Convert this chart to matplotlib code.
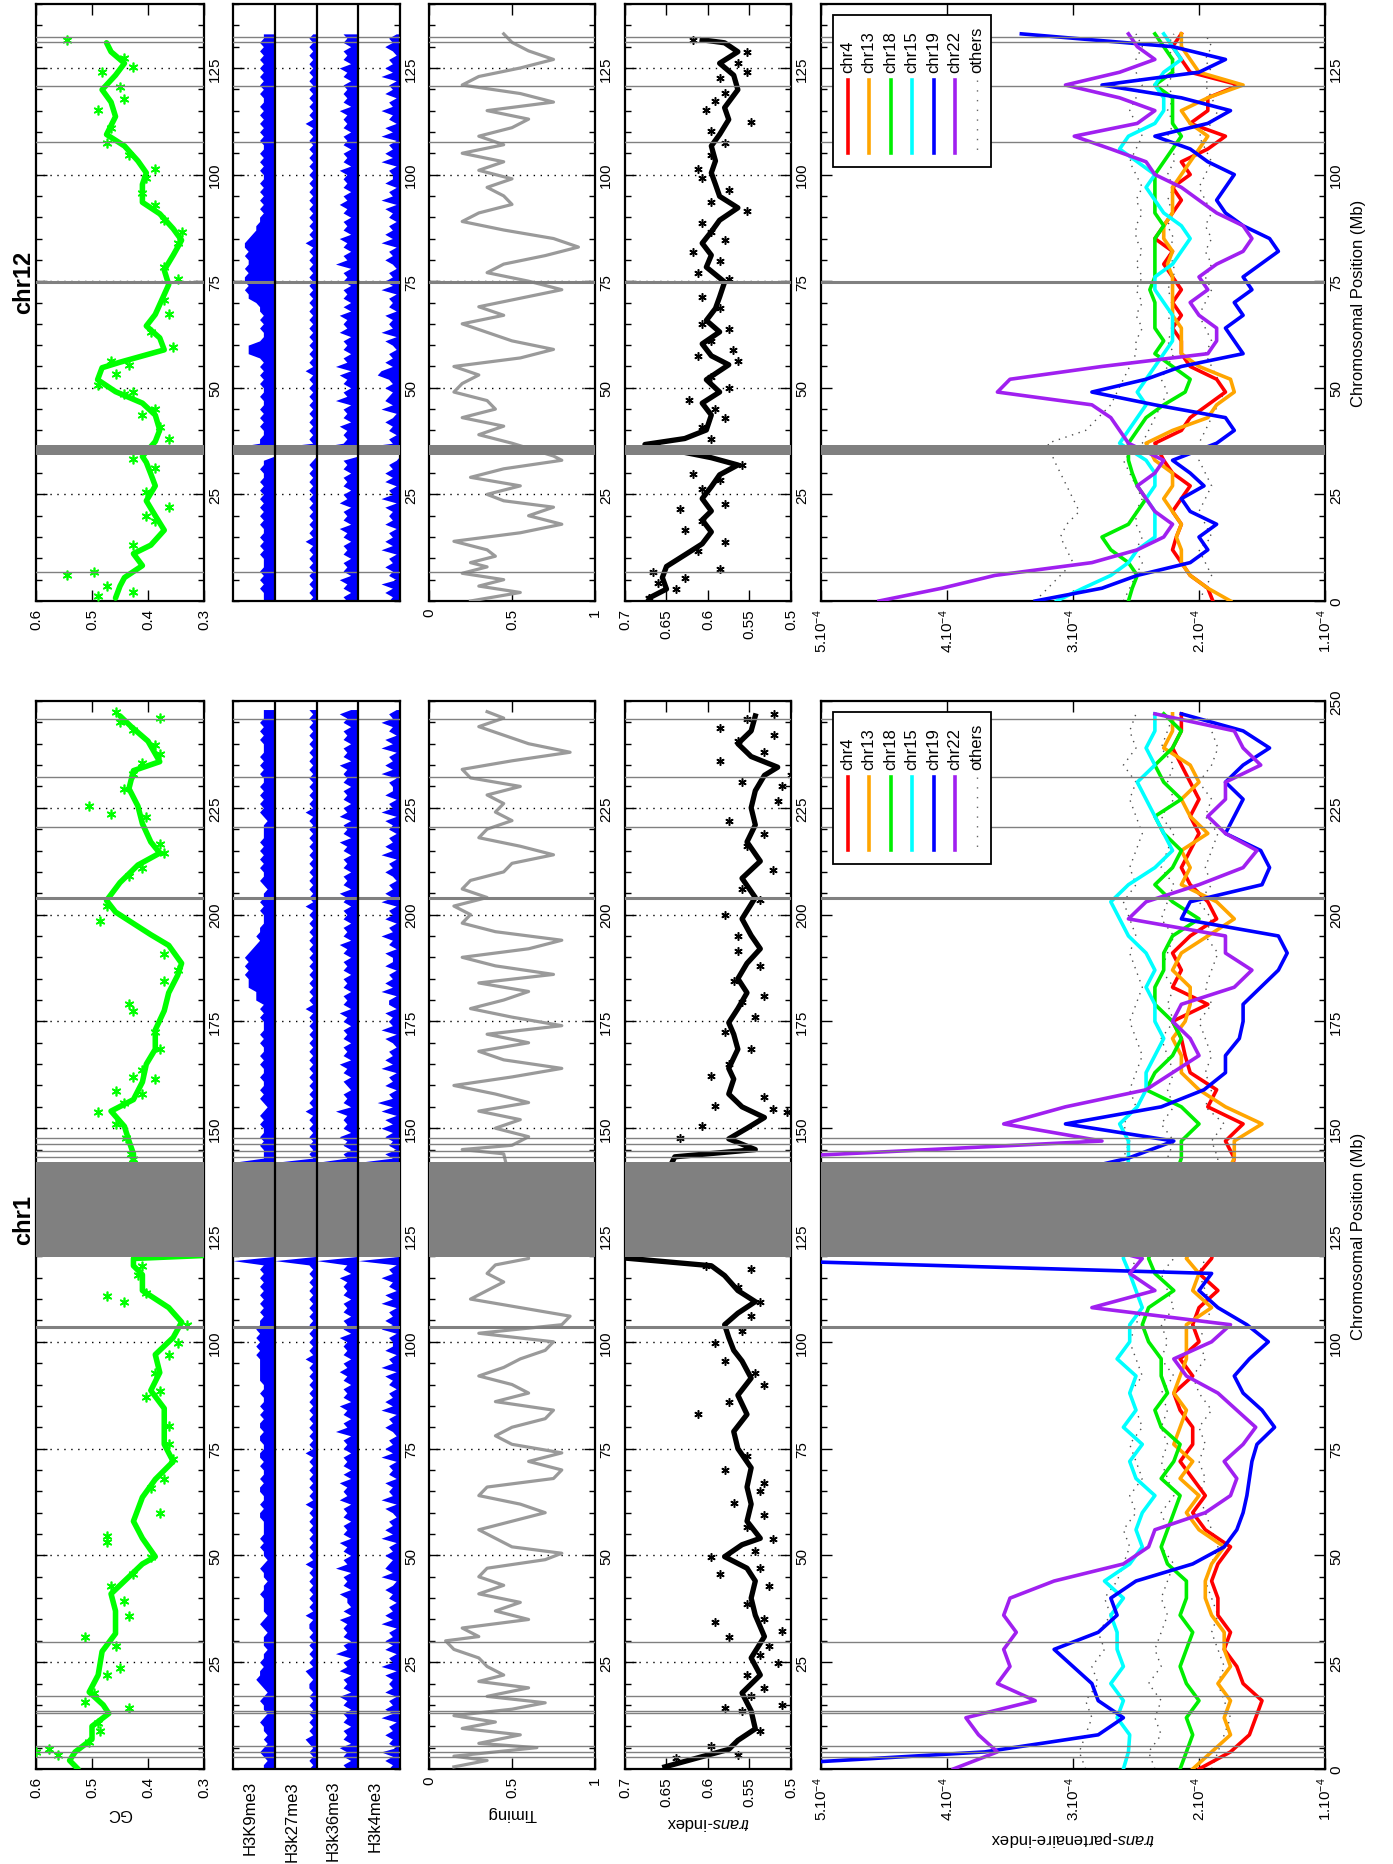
import numpy as np
import matplotlib
matplotlib.use('Agg')
import matplotlib.pyplot as plt
from matplotlib.patches import Rectangle
from matplotlib.lines import Line2D

plt.rcParams['font.family'] = ['Liberation Sans', 'DejaVu Sans']
plt.rcParams['mathtext.fontset'] = 'custom'
plt.rcParams['mathtext.rm'] = 'Liberation Sans'
plt.rcParams['mathtext.it'] = 'Liberation Sans:italic'

# ---------------- chr1 data ----------------
chr1_len = 250
gc1_pos = [0, 2, 4, 7, 10, 13, 15, 18, 22, 27.5, 31.7, 37, 41, 44, 48, 49.7, 54, 58, 63.6, 67.8, 72, 76, 80,
           84.4, 88.6, 92.8, 97, 101, 104.6, 108, 112, 115.7, 117.8, 119.5, 120.2,
           142, 144, 147, 150.4, 154, 156.7, 160.8, 165, 168.5, 173, 177.5, 181.7, 185.8, 188.6, 192.8, 195.3,
           200.6, 203.3, 207.5, 211.6, 214.4, 217, 221.3, 225.4, 229.5, 233.7, 235.8, 240.6, 244, 246.5]
gc1_val = [0.525, 0.54, 0.53, 0.5, 0.5, 0.47, 0.48, 0.505, 0.489, 0.482, 0.458, 0.458, 0.466, 0.442, 0.41, 0.387,
           0.41, 0.426, 0.41, 0.387, 0.355, 0.371, 0.371, 0.371, 0.395, 0.379, 0.387, 0.355, 0.34, 0.363, 0.41,
           0.41, 0.426, 0.426, 0.30,
           0.426, 0.426, 0.434, 0.442, 0.466, 0.426, 0.41, 0.403, 0.387, 0.387, 0.371, 0.363, 0.347, 0.34, 0.363,
           0.395, 0.458, 0.474, 0.45, 0.418, 0.379, 0.395, 0.41, 0.418, 0.434, 0.426, 0.379, 0.40, 0.43, 0.45]
gc1_pts_pos = [3.9, 4.6, 3.2, 6.4, 8.8, 10.8, 14.3, 15.7, 17.8, 22, 23.6, 28.9, 31, 35.8, 39.3, 42.8, 45.6, 49.7,
               53.2, 54.6, 60, 65.7, 67.8, 72.6, 76, 80.3, 87, 88.6, 92.8, 97, 99.7, 104, 109.4, 110.8, 111.5,
               115.7, 117.8, 142.8, 144, 147.6, 151, 153.9, 156, 158, 158.8, 161.5, 162, 163.6, 168.5, 172.6,
               177.5, 179, 184.4, 187, 190.7, 198.5, 202, 209, 211, 214.4, 216.5, 222.8, 223.6, 225.5, 229.5,
               233, 235.4, 237.5, 239.6, 243.1, 245, 246, 247.5]
gc1_pts_val = [0.6, 0.576, 0.56, 0.505, 0.486, 0.49, 0.434, 0.513, 0.497, 0.474, 0.45, 0.458, 0.513, 0.434, 0.442,
               0.466, 0.426, 0.395, 0.474, 0.474, 0.379, 0.395, 0.371, 0.355, 0.363, 0.363, 0.403, 0.379, 0.387,
               0.363, 0.347, 0.331, 0.442, 0.474, 0.403, 0.418, 0.41, 0.426, 0.43, 0.44, 0.458, 0.49, 0.442, 0.41,
               0.458, 0.387, 0.426, 0.41, 0.379, 0.387, 0.426, 0.434, 0.371, 0.347, 0.371, 0.486, 0.474, 0.434,
               0.41, 0.371, 0.379, 0.403, 0.466, 0.505, 0.442, 0.426, 0.41, 0.379, 0.387, 0.426, 0.45, 0.379, 0.458]

# histone signal, one hex digit per Mb (e = full lane)
h1_k9 = ("3323432323" "3432334323" "4544343323" "3323432333" "3433233432" "3343433334" "4343344343"
         "3434433443" "4434343343" "3444444545" "4545443434" "343434343e" "0000000000" "0000000000"
         "00e3334343" "3434323434" "3343343433" "4343334343" "5557778787" "8765454433" "3434332343"
         "3434343433" "3323434343" "4334343433" "343434333")
h1_k27 = ("2121212312" "1212121212" "2123121212" "1212213121" "2121212131" "2121212121" "2131212121"
          "2121312121" "2121212121" "2121213121" "2121212121" "212121212e" "0000000000" "0000000000"
          "00e1212121" "2121312121" "2121212121" "2121212131" "2121212121" "2121212121" "2131212121"
          "2121212121" "2121312121" "2121212121" "212121212")
h1_k36 = ("3424352434" "2434243524" "3425342634" "2434352423" "3524342634" "2435243424" "3425343524"
          "2434243426" "3424352434" "2435342434" "3524342434" "243435243e" "0000000000" "0000000000"
          "00e3424352" "4343624342" "3424352434" "2434243524" "3424342434" "2435243424" "3424352434"
          "2434243524" "3425342434" "2434352434" "243424352")
h1_k4 = ("3242513242" "3152423142" "3241523142" "4231524231" "3242152432" "4231524231" "2415232413"
         "2315242312" "4231524231" "3241523142" "2315242315" "241325231e" "0000000000" "0000000000"
         "00e2413242" "5241526231" "4231524231" "2415232413" "3152423142" "2413252314" "2315242312"
         "4231524231" "3241523142" "2315242315" "241325231")

tim1_pos = [0.5, 2, 3, 5, 6, 8, 9.5, 11, 12.5, 14, 15.5, 17, 19, 20.5, 22, 24, 26, 28, 30, 31, 33, 35, 37, 39, 41,
            43, 45, 47, 49, 50.5, 52, 54, 56, 58, 60, 62, 64, 66, 68, 70, 72, 74, 76, 78, 80, 82, 84, 86, 88, 90,
            92, 94, 96, 98, 100, 102, 104, 106, 108, 110, 112, 114, 116, 118, 119.5,
            144, 145, 146, 148, 150, 152, 154, 156, 158, 160, 162, 164, 166, 168, 170, 172, 174, 176, 178, 180,
            182, 184, 186, 188, 190, 192, 194, 196, 198, 200, 202, 204, 206, 208, 210, 212, 214, 216, 218, 220,
            222, 224, 226, 228, 230, 232, 234, 236, 238, 240, 242, 244, 246, 247.5]
tim1_val = [0.15, 0.35, 0.15, 0.65, 0.3, 0.55, 0.2, 0.4, 0.15, 0.5, 0.7, 0.35, 0.6, 0.3, 0.45, 0.35, 0.3, 0.15,
            0.1, 0.3, 0.2, 0.6, 0.4, 0.55, 0.3, 0.45, 0.3, 0.35, 0.7, 0.8, 0.5, 0.4, 0.3, 0.5, 0.7, 0.55, 0.3,
            0.35, 0.75, 0.8, 0.6, 0.8, 0.5, 0.4, 0.5, 0.7, 0.75, 0.4, 0.6, 0.5, 0.3, 0.45, 0.55, 0.7, 0.75, 0.3,
            0.8, 0.85, 0.55, 0.25, 0.35, 0.45, 0.35, 0.4, 0.6,
            0.45, 0.2, 0.5, 0.6, 0.4, 0.55, 0.3, 0.6, 0.4, 0.15, 0.5, 0.8, 0.45, 0.3, 0.6, 0.35, 0.8, 0.5, 0.25,
            0.45, 0.6, 0.3, 0.75, 0.4, 0.2, 0.6, 0.8, 0.4, 0.2, 0.25, 0.15, 0.35, 0.2, 0.25, 0.45, 0.5, 0.75,
            0.55, 0.3, 0.35, 0.5, 0.4, 0.45, 0.35, 0.55, 0.25, 0.2, 0.5, 0.85, 0.6, 0.45, 0.3, 0.45, 0.35]

ti1_pos = [0.5, 4.6, 6.7, 9.4, 13.6, 17.8, 22, 26, 31, 36, 40, 44, 47, 49.7, 52.5, 54, 58, 62, 66, 70.5, 75, 79,
           83, 87.5, 91.5, 95.5, 98, 101, 104, 106.7, 109.4, 112, 115.5, 117.8, 119.6,
           143.3, 145, 147.5, 150, 152.5, 155, 158, 161.5, 164, 168.5, 172, 174.7, 178, 181.7, 185, 188.6, 192,
           195.1, 199, 204, 208.5, 212.5, 217, 221, 225, 229, 232.6, 234.5, 237, 240, 243, 246.5]
ti1_val = [0.652, 0.575, 0.564, 0.543, 0.548, 0.559, 0.537, 0.548, 0.532, 0.543, 0.548, 0.543, 0.553, 0.58, 0.559,
           0.537, 0.553, 0.548, 0.553, 0.548, 0.564, 0.569, 0.553, 0.564, 0.548, 0.559, 0.569, 0.575, 0.58, 0.564,
           0.543, 0.564, 0.58, 0.596, 0.7,
           0.64, 0.543, 0.575, 0.553, 0.532, 0.559, 0.575, 0.569, 0.575, 0.564, 0.569, 0.575, 0.564, 0.553, 0.564,
           0.553, 0.537, 0.548, 0.559, 0.543, 0.559, 0.537, 0.553, 0.543, 0.548, 0.543, 0.532, 0.516, 0.548,
           0.564, 0.548, 0.543]
ti1_pts_pos = [2.5, 5.3, 3.2, 8.8, 13.6, 14.3, 15, 17, 19, 22, 24.7, 26.8, 28.9, 31, 32.4, 34.4, 35.1, 38.6, 42.8,
               45.6, 47, 49.7, 51, 53.9, 56.7, 59.4, 62.2, 65, 67, 69.9, 73.3, 83, 85.8, 90, 92.8, 95.6, 99.7,
               102.5, 106, 109.4, 112.9, 117, 117.8, 147.6, 150.4, 155.3, 154.6, 153.9, 157.4, 162.2, 165, 168.5,
               172.6, 176, 179.6, 181, 184.4, 187.9, 191.4, 195.1, 200, 203.4, 206, 210.5, 216, 218.8, 222,
               226.5, 230, 231, 232.6, 236, 238, 240.6, 242, 243.6, 245.7, 247]
ti1_pts_val = [0.639, 0.596, 0.564, 0.537, 0.559, 0.58, 0.511, 0.548, 0.532, 0.553, 0.516, 0.537, 0.527, 0.575,
               0.511, 0.591, 0.532, 0.553, 0.527, 0.586, 0.537, 0.596, 0.543, 0.522, 0.553, 0.532, 0.569, 0.537,
               0.532, 0.58, 0.553, 0.612, 0.575, 0.532, 0.543, 0.58, 0.591, 0.559, 0.548, 0.537, 0.564, 0.548,
               0.602, 0.634, 0.607, 0.591, 0.522, 0.505, 0.532, 0.596, 0.575, 0.548, 0.58, 0.543, 0.559, 0.532,
               0.569, 0.537, 0.564, 0.564, 0.58, 0.537, 0.559, 0.522, 0.553, 0.532, 0.575, 0.516, 0.511, 0.559,
               0.50, 0.586, 0.532, 0.564, 0.521, 0.586, 0.553, 0.521]

tp1_pos = [0, 4, 8, 12, 16, 20, 24, 28, 32, 36, 40, 44, 48, 52, 56, 60, 64, 68, 72, 76, 80, 84, 88, 92, 96, 100,
           104, 108, 112, 116, 119.5,
           143, 147, 151, 155, 159, 163, 167, 171, 175, 179, 183, 187, 191, 195, 199, 203, 207, 211, 215, 219,
           223, 227, 231, 235, 239, 243, 247]
tp1_chr4 = [2.0, 1.75, 1.6, 1.55, 1.5, 1.65, 1.7, 1.8, 1.75, 1.85, 1.85, 1.9, 1.85, 1.75, 1.95, 2.05, 1.95, 2.05,
            2.15, 2.05, 2.05, 2.15, 2.2, 2.05, 2.15, 2.0, 2.05, 2.0, 1.85, 2.0, 1.9,
            1.72, 1.79, 1.65, 1.93, 1.86, 2.07, 2.11, 2.14, 2.21, 1.93, 2.21, 2.14, 2.21, 2.07, 1.86, 1.93, 2.07,
            2.14, 2.07, 2.0, 2.07, 2.0, 2.07, 2.14, 2.21, 2.14, 2.14]
tp1_chr13 = [2.05, 1.9, 1.75, 1.8, 1.75, 1.85, 1.75, 1.8, 1.8, 1.9, 1.95, 1.95, 1.9, 1.8, 2.0, 2.1, 2.0, 2.15,
             2.05, 2.2, 2.15, 2.1, 2.2, 2.15, 2.1, 2.1, 2.1, 1.9, 2.05, 2.0, 2.1,
             1.72, 1.72, 1.5, 1.79, 2.0, 2.14, 2.14, 2.21, 2.11, 2.07, 2.07, 2.21, 2.14, 1.93, 1.72, 1.86, 2.14,
             2.07, 2.14, 1.93, 2.07, 2.14, 2.0, 2.07, 2.28, 2.21, 2.21]
tp1_chr18 = [2.15, 2.1, 2.05, 2.1, 2.0, 2.1, 2.15, 2.1, 2.05, 2.15, 2.1, 2.1, 2.25, 2.3, 2.25, 2.2, 2.15, 2.3, 2.2,
             2.15, 2.3, 2.35, 2.25, 2.3, 2.3, 2.4, 2.45, 2.4, 2.2, 2.35, 2.4,
             2.14, 2.14, 2.0, 2.14, 2.42, 2.35, 2.21, 2.14, 2.21, 2.35, 2.35, 2.28, 2.28, 2.21, 2.0, 2.21, 2.35,
             2.21, 2.14, 2.28, 2.35, 2.14, 2.28, 2.35, 2.21, 2.14, 2.28]
tp1_chr15 = [2.6, 2.56, 2.55, 2.65, 2.6, 2.7, 2.6, 2.65, 2.65, 2.7, 2.6, 2.75, 2.55, 2.45, 2.5, 2.45, 2.35, 2.5,
             2.55, 2.45, 2.6, 2.5, 2.55, 2.5, 2.65, 2.55, 2.55, 2.45, 2.5, 2.55, 2.6,
             2.56, 2.56, 2.63, 2.49, 2.42, 2.42, 2.35, 2.28, 2.35, 2.35, 2.42, 2.35, 2.42, 2.56, 2.63, 2.7, 2.56,
             2.35, 2.21, 2.28, 2.35, 2.42, 2.49, 2.35, 2.42, 2.35, 2.35]
tp1_chr19 = [6.0, 3.7, 2.8, 2.6, 2.8, 2.85, 3.0, 3.15, 2.8, 2.65, 2.7, 2.5, 2.05, 1.8, 1.7, 1.65, 1.62, 1.6, 1.58,
             1.54, 1.4, 1.5, 1.65, 1.72, 1.6, 1.45, 1.62, 1.85, 2.0, 1.9, 6.0,
             2.56, 2.2, 3.06, 2.3, 1.96, 1.79, 1.79, 1.68, 1.65, 1.65, 1.51, 1.37, 1.3, 1.37, 2.14, 2.07, 1.5,
             1.44, 1.51, 1.79, 1.72, 1.65, 1.79, 1.65, 1.44, 1.65, 2.14]
tp1_chr22 = [3.95, 3.6, 3.75, 3.85, 3.3, 3.6, 3.5, 3.55, 3.45, 3.55, 3.5, 3.15, 2.6, 2.4, 2.35, 1.95, 1.75, 1.7,
             1.8, 1.65, 1.55, 1.7, 1.85, 2.1, 2.2, 1.9, 1.75, 2.85, 2.35, 2.55, 2.45,
             5.5, 2.77, 3.55, 3.06, 2.42, 2.21, 2.0, 2.07, 2.21, 2.14, 1.72, 1.58, 1.79, 1.79, 2.56, 2.42, 2.0,
             1.65, 1.54, 1.79, 1.93, 1.79, 1.79, 1.51, 1.65, 1.72, 2.35]
tp1_others_a = [2.9, 2.95, 2.9, 2.85, 2.9, 2.8, 2.85, 2.75, 2.8, 2.7, 2.75, 2.65, 2.6, 2.55, 2.6, 2.5, 2.55, 2.45,
                2.5, 2.55, 2.45, 2.5, 2.55, 2.45, 2.5, 2.55, 2.5, 2.45, 2.5, 2.55, 2.5,
                2.6, 2.55, 2.6, 2.5, 2.55, 2.5, 2.45, 2.5, 2.55, 2.5, 2.45, 2.5, 2.55, 2.5, 2.55, 2.6, 2.5, 2.55,
                2.5, 2.45, 2.5, 2.55, 2.5, 2.6, 2.5, 2.55, 2.5]
tp1_others_b = [2.35, 2.4, 2.3, 2.35, 2.3, 2.4, 2.3, 2.35, 2.3, 2.25, 2.3, 2.25, 2.2, 2.3, 2.25, 2.3, 2.2, 2.25,
                2.3, 2.25, 2.3, 2.25, 2.3, 2.2, 2.3, 2.25, 2.3, 2.2, 2.25, 2.3, 2.2,
                2.25, 2.2, 2.3, 2.2, 2.25, 2.2, 2.25, 2.3, 2.2, 2.25, 2.2, 2.3, 2.25, 2.2, 2.3, 2.25, 2.2, 2.3,
                2.25, 2.2, 2.3, 2.2, 2.25, 2.2, 2.3, 2.25, 2.2]
tp1_others_c = [1.9, 1.85, 1.8, 1.75, 1.8, 1.85, 1.8, 1.85, 1.9, 1.85, 1.9, 1.95, 1.9, 1.85, 1.9, 1.95, 2.0, 1.95,
                2.0, 1.95, 2.0, 1.9, 2.0, 2.05, 1.95, 2.0, 1.95, 1.9, 1.95, 2.0, 1.95,
                1.85, 1.9, 1.8, 1.95, 1.9, 1.95, 1.9, 1.95, 2.0, 1.9, 1.95, 1.9, 1.85, 1.95, 1.9, 2.0, 1.9, 1.95,
                1.9, 1.85, 1.95, 1.9, 2.0, 1.9, 1.85, 1.9, 1.95]

chr1_lines = [2.7, 3.9, 5.4, 13.0, 13.6, 17.1, 29.8, 143.2, 144.6, 146.2, 147.6, 220.6, 232.3, 245.7]
chr1_thick = [103.5, 203.8]
chr1_bands = [(119.8, 142.0)]

# ---------------- chr12 data ----------------
chr12_len = 140
gc12_pos = [0.7, 3.5, 5.5, 8.3, 11.1, 13.1, 16.6, 20, 23.5, 27, 29.8, 32.5, 33.9, 37.4, 40.1, 43.6, 46.4, 49.1,
            51.9, 54.7, 56, 58.9, 61.7, 64.5, 67.2, 70.7, 74.2, 77.6, 81.1, 84.6, 87.3, 90.8, 93.5, 97.7, 100.4,
            103.2, 106.7, 109.4, 113.6, 117, 119.9, 123.3, 126.1, 128.8, 130.9]
gc12_val = [0.458, 0.45, 0.442, 0.41, 0.426, 0.395, 0.371, 0.387, 0.403, 0.387, 0.395, 0.403, 0.41, 0.387, 0.379,
            0.387, 0.41, 0.458, 0.49, 0.482, 0.45, 0.371, 0.379, 0.403, 0.387, 0.375, 0.363, 0.371, 0.355, 0.34,
            0.355, 0.379, 0.41, 0.41, 0.403, 0.418, 0.442, 0.474, 0.458, 0.466, 0.482, 0.458, 0.442, 0.466, 0.474]
gc12_pts_pos = [1.2, 2.1, 3.5, 6.1, 6.9, 13.1, 18.7, 20, 22.1, 25.6, 31.3, 33.4, 38.1, 40.8, 43.6, 45, 48.5, 49.1,
                50.6, 53.3, 55.4, 56.2, 59.6, 63.1, 67.2, 70.7, 75.5, 78.3, 83.9, 86.6, 89.4, 92.9, 95.7, 99.1,
                101.2, 104.7, 107.5, 110.9, 115.1, 117.8, 120.6, 124, 125.3, 127.4, 131.6]
gc12_pts_val = [0.49, 0.426, 0.474, 0.545, 0.497, 0.426, 0.387, 0.403, 0.363, 0.403, 0.387, 0.426, 0.363, 0.379,
                0.41, 0.387, 0.442, 0.426, 0.49, 0.458, 0.434, 0.466, 0.355, 0.395, 0.363, 0.371, 0.347, 0.371,
                0.347, 0.34, 0.371, 0.387, 0.41, 0.403, 0.387, 0.434, 0.474, 0.466, 0.49, 0.442, 0.45, 0.482,
                0.426, 0.442, 0.545]

h12_k9 = ("3334343433" "3434343343" "4343434343" "343300e443" "3434343343" "3434343477" "7433434344"
          "5778788787" "7878876554" "4343434343" "3434343343" "4343434334" "3434343434" "3433")
h12_k27 = ("2121212121" "2121312121" "2121212121" "212100e121" "2121212121" "2121312121" "2121212121"
           "2121212121" "2121312121" "2121212121" "2121212121" "2131212121" "2121212121" "2121")
h12_k36 = ("3424352434" "2434243524" "3425342434" "243400e434" "3524342634" "2435263424" "3425343524"
           "2434243426" "3424352434" "2435342434" "3524342434" "2434352434" "3424352434" "2434")
h12_k4 = ("3242513242" "3152423142" "3241523142" "423100e231" "3242152432" "4236524231" "2415232413"
          "2315242312" "4231524231" "3241523142" "2315242315" "2413252314" "2315242312" "4231")

tim12_pos = [0, 2, 3.5, 5, 6.5, 8, 9, 10.5, 12, 14, 16, 18, 20, 22, 23.5, 25, 27, 29, 31, 33, 34,
             37, 39, 41, 43, 45, 47, 49, 51, 53, 55, 57, 59, 61, 63, 65, 67, 69, 71, 73, 75, 77, 79, 81, 83, 85,
             87, 89, 91, 93, 95, 97, 99, 101, 103, 105, 107, 109, 111, 113, 115, 117, 119, 121, 123, 125, 127,
             129, 131, 133]
tim12_val = [0.25, 0.55, 0.3, 0.45, 0.2, 0.35, 0.25, 0.4, 0.35, 0.15, 0.55, 0.8, 0.6, 0.75, 0.45, 0.35, 0.55,
             0.25, 0.45, 0.8, 0.75,
             0.5, 0.3, 0.45, 0.2, 0.4, 0.35, 0.15, 0.2, 0.3, 0.15, 0.55, 0.75, 0.5, 0.35, 0.2, 0.45, 0.3, 0.55,
             0.8, 0.6, 0.35, 0.45, 0.7, 0.9, 0.75, 0.45, 0.2, 0.3, 0.5, 0.45, 0.35, 0.5, 0.3, 0.45, 0.2, 0.45,
             0.3, 0.5, 0.6, 0.35, 0.75, 0.55, 0.2, 0.3, 0.55, 0.75, 0.6, 0.5, 0.45]

ti12_pos = [0.7, 2.8, 5.5, 8.1, 10.8, 13.4, 16.2, 19, 21.1, 24, 26.8, 29.6, 31.9, 33.6, 36.7, 38.1, 40.1, 43.6,
            46.4, 49, 51.9, 55.4, 57.5, 60.3, 63.1, 65.8, 68.6, 71.3, 74.8, 78.3, 81.1, 83.9, 86.6, 89.3, 92.2,
            94.9, 97.7, 100.4, 103.2, 106.7, 109.4, 112.9, 115.7, 119.9, 123.3, 126.1, 128.8, 130.9, 131.6]
ti12_val = [0.671, 0.65, 0.655, 0.65, 0.628, 0.607, 0.596, 0.607, 0.596, 0.607, 0.596, 0.586, 0.564, 0.596, 0.676,
            0.628, 0.602, 0.596, 0.607, 0.586, 0.602, 0.575, 0.596, 0.607, 0.586, 0.602, 0.591, 0.586, 0.58,
            0.602, 0.596, 0.607, 0.596, 0.586, 0.564, 0.586, 0.591, 0.596, 0.591, 0.596, 0.586, 0.575, 0.58,
            0.564, 0.569, 0.586, 0.564, 0.58, 0.607]
ti12_pts_pos = [0.7, 2.8, 4.2, 5.5, 6.9, 7.5, 11.8, 13.8, 16.6, 18.7, 21.5, 22.8, 26.3, 28.4, 29.8, 31.9, 38.1,
                40.8, 43, 45, 47.2, 50, 52.6, 56.2, 57.5, 58.9, 61, 63.8, 65, 68.6, 71.3, 75.5, 76.9, 79.7, 81.8,
                84.6, 86.6, 88.7, 91.5, 93.6, 96.3, 99.1, 101.2, 104.7, 107.5, 110.3, 112.4, 115.1, 117.2, 119.2,
                122.7, 124, 126.1, 128.8, 131.6]
ti12_pts_val = [0.671, 0.639, 0.66, 0.628, 0.666, 0.586, 0.612, 0.58, 0.628, 0.607, 0.634, 0.58, 0.607, 0.586,
                0.618, 0.559, 0.596, 0.607, 0.58, 0.591, 0.623, 0.575, 0.596, 0.564, 0.612, 0.57, 0.596, 0.575,
                0.607, 0.586, 0.607, 0.575, 0.612, 0.586, 0.618, 0.58, 0.596, 0.607, 0.553, 0.596, 0.575, 0.607,
                0.612, 0.596, 0.58, 0.596, 0.548, 0.602, 0.591, 0.58, 0.586, 0.553, 0.564, 0.553, 0.618]

tp12_pos = [0, 3, 6, 9, 12, 15, 18, 21, 24, 27, 30, 33,
            37, 40, 43, 46, 49, 52, 55, 58, 61, 64, 67, 70, 73, 76, 79, 82, 85, 88, 91, 94, 97, 100, 103, 106,
            109, 112, 115, 118, 121, 124, 127, 130, 133]
tp12_chr4 = [1.89, 1.93, 2.07, 2.14, 2.21, 2.18, 2.14, 2.21, 2.14, 2.07, 2.21, 2.28,
             2.35, 2.14, 2.07, 1.93, 1.79, 1.86, 2.07, 2.14, 2.14, 2.21, 2.14, 2.21, 2.14, 2.21, 2.28, 2.21, 2.35,
             2.28, 2.21, 2.14, 2.21, 2.07, 2.14, 1.93, 1.79, 2.07, 1.93, 1.93, 1.68, 2.07, 2.14, 2.21, 2.14]
tp12_chr13 = [1.75, 1.93, 2.07, 2.14, 2.14, 2.18, 2.14, 2.21, 2.28, 2.21, 2.21, 2.35,
              2.42, 2.21, 1.93, 1.86, 1.72, 1.75, 2.0, 2.14, 2.14, 2.14, 2.21, 2.21, 2.21, 2.21, 2.25, 2.21,
              2.28, 2.28, 2.21, 2.21, 2.21, 2.14, 2.07, 2.0, 1.93, 2.07, 2.14, 1.93, 1.65, 2.0, 2.07, 2.14, 2.14]
tp12_chr18 = [2.56, 2.53, 2.49, 2.56, 2.7, 2.77, 2.56, 2.49, 2.42, 2.49, 2.53, 2.56,
              2.56, 2.49, 2.42, 2.28, 2.11, 2.07, 2.21, 2.35, 2.28, 2.35, 2.35, 2.35, 2.39, 2.35, 2.35, 2.35,
              2.35, 2.28, 2.35, 2.35, 2.35, 2.35, 2.28, 2.21, 2.14, 2.21, 2.21, 2.21, 2.35, 2.21, 2.21, 2.28, 2.35]
tp12_chr15 = [3.13, 2.92, 2.7, 2.56, 2.49, 2.35, 2.35, 2.35, 2.42, 2.35, 2.35, 2.42,
              2.63, 2.56, 2.49, 2.42, 2.49, 2.42, 2.35, 2.28, 2.21, 2.21, 2.21, 2.28, 2.35, 2.35, 2.21, 2.14,
              2.07, 2.14, 2.28, 2.35, 2.42, 2.35, 2.49, 2.63, 2.56, 2.35, 2.28, 2.28, 2.35, 2.28, 2.14, 2.21, 2.28]
tp12_chr19 = [3.3, 2.77, 2.49, 2.07, 1.93, 2.0, 1.86, 2.07, 2.14, 1.96, 2.07, 2.21,
              1.86, 1.72, 1.79, 2.35, 2.85, 2.42, 2.14, 1.65, 1.72, 1.79, 1.65, 1.72, 1.58, 1.65, 1.51, 1.37,
              1.44, 1.65, 1.79, 1.86, 1.79, 1.72, 1.93, 2.07, 2.35, 1.93, 1.75, 2.14, 2.77, 2.0, 1.79, 2.21, 3.41]
tp12_chr22 = [4.54, 4.04, 3.62, 2.85, 2.49, 2.28, 2.21, 2.35, 2.42, 2.49, 2.35, 2.28,
              2.56, 2.63, 2.7, 2.85, 3.6, 3.5, 2.77, 1.93, 1.86, 1.86, 2.0, 2.07, 1.93, 2.0, 1.86, 1.65, 1.58,
              1.65, 1.86, 2.0, 2.14, 2.35, 2.42, 2.7, 2.99, 2.49, 2.35, 2.63, 3.06, 2.63, 2.35, 2.49, 2.56]
tp12_others_a = [3.3, 3.2, 3.1, 3.0, 3.05, 3.1, 3.05, 2.95, 3.0, 3.05, 3.1, 3.15,
                 3.2, 2.9, 2.8, 2.7, 2.65, 2.6, 2.55, 2.5, 2.5, 2.45, 2.5, 2.45, 2.5, 2.45, 2.5, 2.45, 2.5, 2.5,
                 2.45, 2.5, 2.45, 2.5, 2.55, 2.5, 2.45, 2.5, 2.55, 2.5, 2.45, 2.5, 2.5, 2.45, 2.5]
tp12_others_b = [2.6, 2.55, 2.5, 2.45, 2.5, 2.45, 2.5, 2.5, 2.45, 2.5, 2.55, 2.6,
                 2.45, 2.4, 2.35, 2.3, 2.25, 2.3, 2.25, 2.2, 2.25, 2.2, 2.25, 2.2, 2.25, 2.2, 2.2, 2.25, 2.2,
                 2.25, 2.2, 2.25, 2.2, 2.25, 2.2, 2.2, 2.25, 2.2, 2.25, 2.2, 2.25, 2.2, 2.2, 2.25, 2.2]
tp12_others_c = [2.0, 1.95, 1.9, 1.95, 2.0, 1.9, 1.95, 2.0, 1.95, 1.9, 1.95, 2.0,
                 2.0, 1.95, 1.9, 1.85, 1.8, 1.85, 1.9, 1.95, 1.9, 1.95, 2.0, 1.95, 1.9, 1.95, 1.9, 1.95, 1.9,
                 1.95, 1.9, 1.95, 2.0, 1.95, 1.9, 1.95, 2.0, 1.9, 1.85, 1.9, 1.95, 1.9, 1.95, 1.9, 1.95]

chr12_lines = [6.9, 107.7, 120.8, 131.2, 132.3]
chr12_thick = [74.7]
chr12_bands = [(34.3, 36.6)]

partner_names = ['chr4', 'chr13', 'chr18', 'chr15', 'chr19', 'chr22']
partner_colors = ['#ff0000', '#ffa500', '#00ee00', '#00ffff', '#0000ff', '#a020f0']
hist_names = ['H3K9me3', 'H3k27me3', 'H3k36me3', 'H3k4me3']
gc_ticks = [0.6, 0.5, 0.4, 0.3]
tim_ticks = [0, 0.5, 1]
ti_ticks = [0.7, 0.65, 0.6, 0.55, 0.5]
tp_ticks = [5, 4, 3, 2, 1]
tp_labels = ['5.10$^{-4}$', '4.10$^{-4}$', '3.10$^{-4}$', '2.10$^{-4}$', '1.10$^{-4}$']

# ---------------- layout (pixels) ----------------
W, H = 1393, 1865
fig = plt.figure(figsize=(W / 100, H / 100), dpi=100)
cols = {'gc': (36, 204), 'hist': (233, 400), 'tim': (429, 595), 'ti': (625, 791), 'tp': (821, 1325)}
rows = {'chr12': (5, 602), 'chr1': (702, 1770)}
GRAY = '#808080'
DOT = (0, (1, 4))


def add_ax(col, row):
    x0, x1 = cols[col]
    y0, y1 = rows[row]
    return fig.add_axes([x0 / W, 1 - y1 / H, (x1 - x0) / W, (y1 - y0) / H])


def frame(ax, top, majors, grid=True):
    ax.set_ylim(0, top)
    ax.set_yticks(majors)
    ax.set_yticks(np.arange(0, top + 1, 5), minor=True)
    ax.yaxis.tick_right()
    ax.tick_params(axis='y', which='both', direction='in', left=True, right=True,
                   labelleft=False, labelright=True, labelrotation=90, labelsize=11, pad=3)
    ax.tick_params(axis='y', which='major', length=8, width=1)
    ax.tick_params(axis='y', which='minor', length=4, width=1)
    ax.tick_params(axis='x', direction='in', top=True, bottom=True, length=8, width=1,
                   labelrotation=90, labelsize=11, pad=5)
    plt.setp(ax.get_yticklabels(), va='center')
    for sp in ax.spines.values():
        sp.set_linewidth(1.6)
    if grid:
        for p in majors:
            ax.axhline(p, color='k', lw=1.0, ls=DOT, zorder=1)


def gaps(ax, lines, thick, bands):
    for p in lines:
        ax.axhline(p, color=GRAY, lw=1.0, zorder=4)
    for p in thick:
        ax.axhline(p, color=GRAY, lw=2.2, zorder=4)
    for a, b in bands:
        ax.axhspan(a, b, color=GRAY, lw=0, zorder=4)


def legend(row):
    bx = cols['tp'][0] + 12
    by = rows[row][0] + 11
    fig.add_artist(Rectangle((bx / W, 1 - (by + 152) / H), 158 / W, 152 / H, transform=fig.transFigure,
                             fc='white', ec='k', lw=1.3, zorder=6))
    for i, name in enumerate(partner_names + ['others']):
        x = (bx + 14.7 + 21.5 * i) / W
        fig.text(x, 1 - (by + 57) / H, name, rotation=90, ha='center', va='bottom', fontsize=12, zorder=7)
        if i < len(partner_names):
            ln = Line2D([x, x], [1 - (by + 65) / H, 1 - (by + 138) / H], transform=fig.transFigure,
                        color=partner_colors[i], lw=2.6, zorder=7)
        else:
            ln = Line2D([x, x], [1 - (by + 65) / H, 1 - (by + 138) / H], transform=fig.transFigure,
                        color='0.4', lw=1.0, ls=(0, (1, 6)), zorder=7)
        fig.add_artist(ln)


def draw_chrom(row, top, pos_ticks, tp_pos_ticks, gc, gc_pts, hist, tim, ti, ti_pts, tp_pos, tp_series,
               tp_others, lines, thick, bands, labels):
    # GC
    ax = add_ax('gc', row)
    ax.plot(gc[1], gc[0], color='#00ff00', lw=4, solid_capstyle='round', solid_joinstyle='round', zorder=3)
    ax.plot(gc_pts[1], gc_pts[0], ls='none', marker=(6, 2, 0), ms=7, mew=1.2, color='#00ff00', zorder=3)
    ax.set_xlim(0.6, 0.3)
    ax.set_xticks(gc_ticks)
    ax.set_xticklabels(['0.6', '0.5', '0.4', '0.3'])
    frame(ax, top, pos_ticks)
    gaps(ax, lines, thick, bands)
    if labels:
        ax.set_xlabel('GC', rotation=180, fontsize=12, labelpad=6)

    # histone marks: baseline at the right edge of each lane
    ax = add_ax('hist', row)
    for i, s in enumerate(hist):
        lev = np.minimum(np.array([int(c, 16) for c in s]) / 11.0, 1.0)
        p = np.arange(len(s))
        ax.fill_betweenx(p, i + 1 - lev, i + 1, color='#0000ff', lw=0, zorder=2)
    for i in range(1, 4):
        ax.axvline(i, color='k', lw=1.6, zorder=5)
    ax.set_xlim(0, 4)
    ax.set_xticks([])
    frame(ax, top, pos_ticks)
    ax.tick_params(axis='x', top=False, bottom=False)
    gaps(ax, lines, thick, bands)
    if labels:
        x0, x1 = cols['hist']
        for i, name in enumerate(hist_names):
            xc = x0 + (x1 - x0) * (i + 0.5) / 4 - 4
            fig.text(xc / W, 1 - (rows[row][1] + 11) / H, name, rotation=90, ha='center', va='top', fontsize=12)

    # timing
    ax = add_ax('tim', row)
    ax.plot(tim[1], tim[0], color='#9a9a9a', lw=2.3, solid_joinstyle='round', zorder=3)
    ax.set_xlim(0, 1)
    ax.set_xticks(tim_ticks)
    ax.set_xticklabels(['0', '0.5', '1'])
    frame(ax, top, pos_ticks)
    gaps(ax, lines, thick, bands)
    if labels:
        ax.set_xlabel('Timing', rotation=180, fontsize=12, labelpad=6)

    # trans-index
    ax = add_ax('ti', row)
    ax.plot(ti[1], ti[0], color='k', lw=3.8, solid_joinstyle='round', zorder=3)
    ax.plot(ti_pts[1], ti_pts[0], ls='none', marker=(6, 2, 0), ms=6, mew=1.1, color='k', zorder=3)
    ax.set_xlim(0.7, 0.5)
    ax.set_xticks(ti_ticks)
    ax.set_xticklabels(['0.7', '0.65', '0.6', '0.55', '0.5'])
    frame(ax, top, pos_ticks)
    gaps(ax, lines, thick, bands)
    if labels:
        ax.set_xlabel(r'$\mathit{trans}$-index', rotation=180, fontsize=12, labelpad=6)

    # trans-partner index
    ax = add_ax('tp', row)
    for s in tp_others:
        ax.plot(s, tp_pos, color='0.3', lw=1.0, ls=(0, (1, 4)), zorder=2)
    for s, c in zip(tp_series, partner_colors):
        ax.plot(s, tp_pos, color=c, lw=2.6, solid_joinstyle='round', zorder=3)
    ax.set_xlim(5, 1)
    ax.set_xticks(tp_ticks)
    ax.set_xticklabels(tp_labels)
    frame(ax, top, tp_pos_ticks, grid=False)
    gaps(ax, lines, thick, bands)
    ax.yaxis.set_label_position('right')
    ax.set_ylabel('Chromosomal Position (Mb)', rotation=90, fontsize=12, labelpad=6)
    if labels:
        ax.set_xlabel(r'$\mathit{trans}$-partenaire-index', rotation=180, fontsize=12, labelpad=6)
    legend(row)


draw_chrom('chr12', chr12_len, [25, 50, 75, 100, 125], [0, 25, 50, 75, 100, 125],
           (gc12_pos, gc12_val), (gc12_pts_pos, gc12_pts_val), [h12_k9, h12_k27, h12_k36, h12_k4],
           (tim12_pos, tim12_val), (ti12_pos, ti12_val), (ti12_pts_pos, ti12_pts_val), tp12_pos,
           [tp12_chr4, tp12_chr13, tp12_chr18, tp12_chr15, tp12_chr19, tp12_chr22],
           [tp12_others_a, tp12_others_b, tp12_others_c], chr12_lines, chr12_thick, chr12_bands, False)
draw_chrom('chr1', chr1_len, [25, 50, 75, 100, 125, 150, 175, 200, 225],
           [0, 25, 50, 75, 100, 125, 150, 175, 200, 225, 250],
           (gc1_pos, gc1_val), (gc1_pts_pos, gc1_pts_val), [h1_k9, h1_k27, h1_k36, h1_k4],
           (tim1_pos, tim1_val), (ti1_pos, ti1_val), (ti1_pts_pos, ti1_pts_val), tp1_pos,
           [tp1_chr4, tp1_chr13, tp1_chr18, tp1_chr15, tp1_chr19, tp1_chr22],
           [tp1_others_a, tp1_others_b, tp1_others_c], chr1_lines, chr1_thick, chr1_bands, True)

fig.text(24 / W, 1 - 282 / H, 'chr12', rotation=90, ha='center', va='center', fontsize=17, weight='bold')
fig.text(24 / W, 1 - 1220 / H, 'chr1', rotation=90, ha='center', va='center', fontsize=17, weight='bold')

fig.savefig('out.png', dpi=100)
